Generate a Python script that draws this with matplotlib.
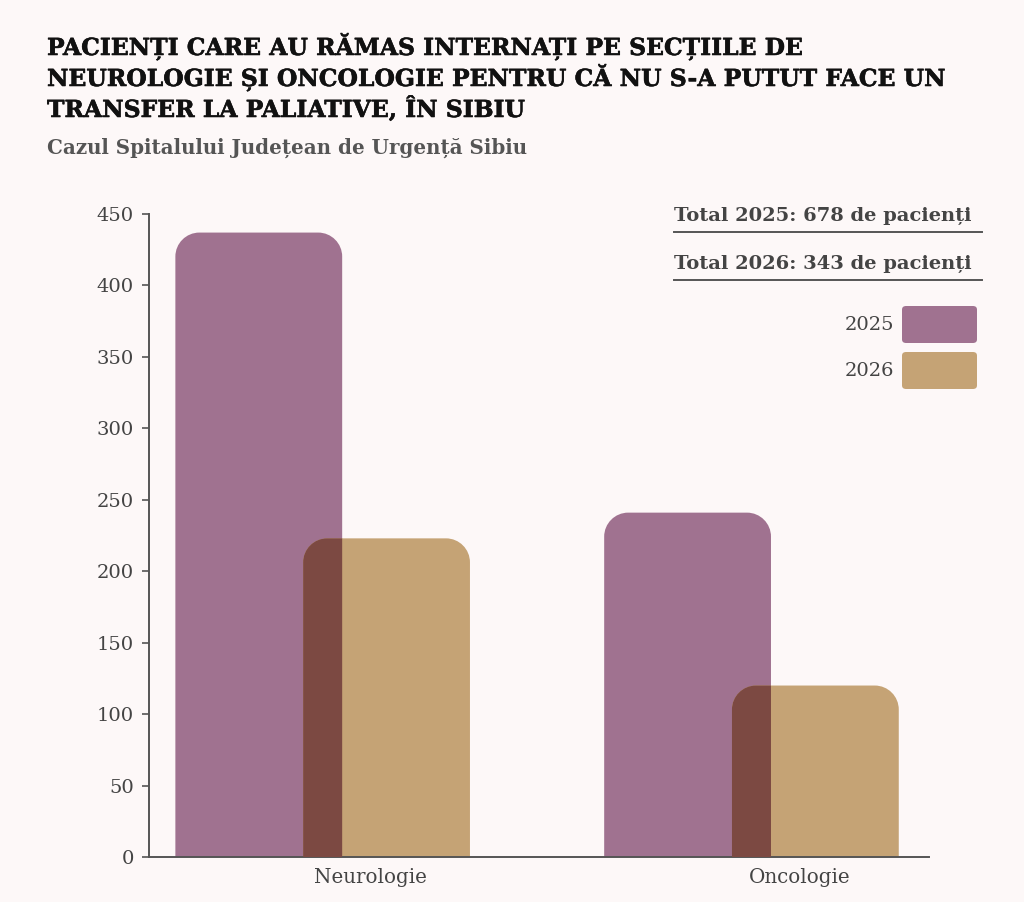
#!/usr/bin/env python3

import matplotlib
matplotlib.use("Agg")
import matplotlib.pyplot as plt
import matplotlib.patheffects as pe
from matplotlib.path import Path
from matplotlib.patches import PathPatch, FancyBboxPatch
from matplotlib.lines import Line2D
import matplotlib.colors as mcolors

# Date
categorii = ["Neurologie", "Oncologie"]
ani = ["2025", "2026"]
valori_2025 = [437, 241]
valori_2026 = [223, 120]
culori = ["#a07290", "#c5a375"]
titlu = ["PACIENȚI CARE AU RĂMAS INTERNAȚI PE SECȚIILE DE",
		 "NEUROLOGIE ȘI ONCOLOGIE PENTRU CĂ NU S-A PUTUT FACE UN",
		 "TRANSFER LA PALIATIVE, ÎN SIBIU"]
subtitlu = "Cazul Spitalului Județean de Urgență Sibiu"

W, H = 1024, 902
fundal = "#fdf8f8"
text_gri = "#444444"
plt.rcParams["font.family"] = ["DejaVu Serif"]


def fx(px):
	return px / W


def fy(py):
	return 1 - py / H


def bara_rotunjita(ax, x0, latime, h, r_px):
	# bara cu colturile de sus rotunjite (raza in pixeli)
	p0 = ax.transData.transform((0, 0))
	p1 = ax.transData.transform((1, 1))
	rx = r_px / (p1[0] - p0[0])
	ry = r_px / (p1[1] - p0[1])
	x1 = x0 + latime
	k = 0.5523
	verts = [(x0, 0), (x0, h - ry),
			 (x0, h - ry + k * ry), (x0 + rx - k * rx, h), (x0 + rx, h),
			 (x1 - rx, h),
			 (x1 - rx + k * rx, h), (x1, h - ry + k * ry), (x1, h - ry),
			 (x1, 0), (x0, 0)]
	codes = [Path.MOVETO, Path.LINETO,
			 Path.CURVE4, Path.CURVE4, Path.CURVE4,
			 Path.LINETO,
			 Path.CURVE4, Path.CURVE4, Path.CURVE4,
			 Path.LINETO, Path.CLOSEPOLY]
	return Path(verts, codes)


def multiply(c1, c2):
	a = mcolors.to_rgb(c1)
	b = mcolors.to_rgb(c2)
	return tuple(u * v for u, v in zip(a, b))


fig = plt.figure(figsize=(W / 100, H / 100), dpi=100, facecolor=fundal)
ax = fig.add_axes([fx(149), 1 - 857 / H, 780 / W, (857 - 214) / H])
ax.set_facecolor(fundal)
ax.set_xlim(-0.405, 1.414)
ax.set_ylim(0, 450)

latime = 0.389
decalaj = 0.149
serii = [valori_2025, valori_2026]
culoare_suprapunere = multiply(culori[0], culori[1])

for i, cat in enumerate(categorii):
	path_a = bara_rotunjita(ax, i - decalaj - latime / 2, latime, serii[0][i], 24)
	path_b = bara_rotunjita(ax, i + decalaj - latime / 2, latime, serii[1][i], 24)
	pa = PathPatch(path_a, facecolor=culori[0], edgecolor="none", zorder=2)
	pb = PathPatch(path_b, facecolor=culori[1], edgecolor="none", zorder=2)
	ax.add_patch(pa)
	ax.add_patch(pb)
	# zona de suprapunere (efect multiply)
	po = PathPatch(path_a, facecolor=culoare_suprapunere, edgecolor="none", zorder=3)
	ax.add_patch(po)
	po.set_clip_path(pb)

ax.set_yticks(range(0, 451, 50))
ax.set_xticks([i + 0.112 for i in range(len(categorii))])
ax.set_xticklabels(categorii)
ax.tick_params(axis="y", length=5, width=1.2, color="#555555", labelsize=14,
			   labelcolor=text_gri, pad=6)
ax.tick_params(axis="x", length=0, labelsize=14.3, labelcolor=text_gri, pad=8)
for s in ["top", "right"]:
	ax.spines[s].set_visible(False)
for s in ["left", "bottom"]:
	ax.spines[s].set_color("#555555")
	ax.spines[s].set_linewidth(1.4)

# Titlu
for j, linie in enumerate(titlu):
	fig.text(fx(47), fy(55 + j * 31), linie, fontsize=16.9, fontweight="bold",
			 color="#111111", va="baseline", ha="left",
			 path_effects=[pe.withStroke(linewidth=0.4, foreground="#111111")])
fig.text(fx(47), fy(148), subtitlu, fontsize=14.3, fontweight="bold", color="#555555",
		 va="center", ha="left")

# Totaluri
totaluri = [sum(valori_2025), sum(valori_2026)]
for j, (an, tot) in enumerate(zip(ani, totaluri)):
	yc = 216 + j * 48
	fig.text(fx(674), fy(yc), f"Total {an}: {tot} de pacienți", fontsize=14,
			 fontweight="bold", color=text_gri, va="center", ha="left")
	fig.add_artist(Line2D([fx(674), fx(982)], [fy(yc + 16), fy(yc + 16)],
						  color="#555555", linewidth=1.4))

# Legenda
for j, an in enumerate(ani):
	yt = 306 + j * 46
	fig.add_artist(FancyBboxPatch((fx(902), fy(yt + 37)), 75 / W, 37 / H,
								  boxstyle="round,pad=0,rounding_size=0.004",
								  facecolor=culori[j], edgecolor="none",
								  transform=fig.transFigure))
	fig.text(fx(894), fy(yt + 19), an, fontsize=14, color=text_gri,
			 va="center", ha="right")

fig.savefig("out.png", dpi=100, facecolor=fundal)
